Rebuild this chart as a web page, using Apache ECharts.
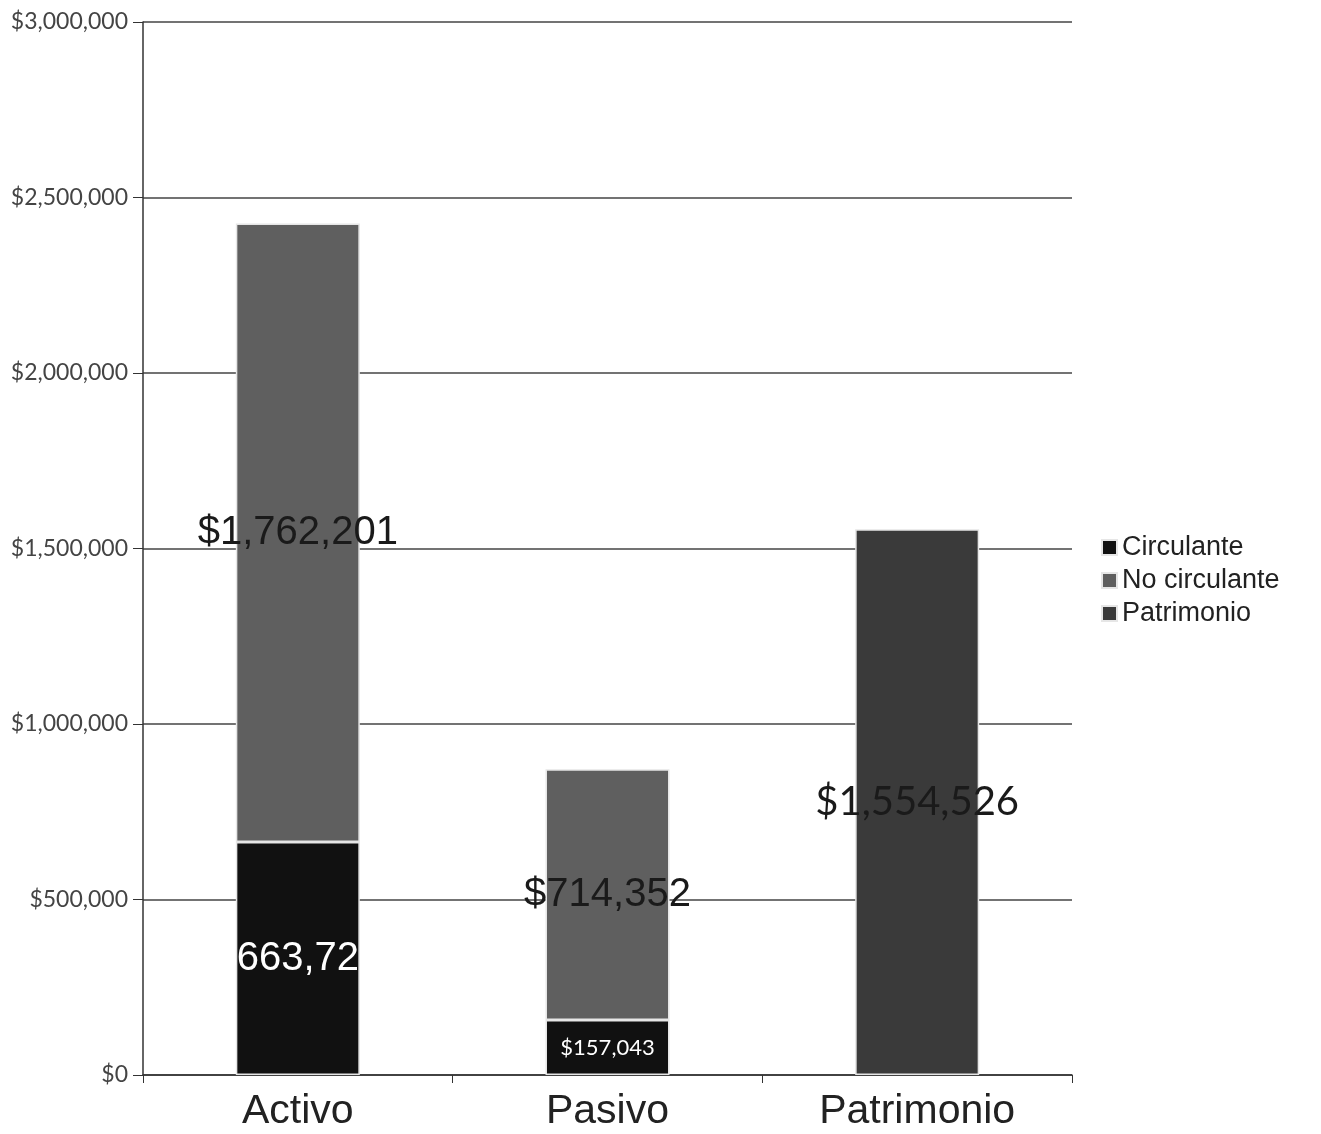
<!DOCTYPE html>
<html>
<head>
<meta charset="utf-8">
<script src="https://cdn.jsdelivr.net/npm/echarts@6/dist/echarts.min.js"></script>
<style>
  html, body { margin: 0; padding: 0; background: #fff; }
  #chart { width: 1321px; height: 1134px; }
</style>
</head>
<body>
<div id="chart"></div>
<script>
// datos
const categories = ["Activo", "Pasivo", "Patrimonio"];
const circulante = [663720, 157043, null];
const noCirculante = [1762201, 714352, null];
const patrimonio = [null, null, 1554526];
const yTicks = [0, 500000, 1000000, 1500000, 2000000, 2500000, 3000000];

const money = v => "$" + Number(v).toLocaleString("en-US");

const chart = echarts.init(document.getElementById("chart"));

const bigLabel = {
  show: true,
  position: "inside",
  fontFamily: "Liberation Sans, Arial",
  fontSize: 40,
  color: "#1a1a1a",
  formatter: p => money(p.value)
};

const option = {
  backgroundColor: "#fff",
  animation: false,
  grid: { left: 143, right: 249, top: 22, bottom: 59 },
  legend: {
    orient: "vertical",
    left: 1096,
    top: 529,
    itemWidth: 15,
    itemHeight: 15,
    itemGap: 6,
    icon: "rect",
    textStyle: { fontFamily: "Liberation Sans, Arial", fontSize: 27, color: "#222", padding: [0, 0, 0, 0] },
    data: ["Circulante", "No circulante", "Patrimonio"]
  },
  xAxis: {
    type: "category",
    data: categories,
    axisLine: { lineStyle: { color: "#333", width: 1.5 } },
    axisTick: { show: true, length: 8, lineStyle: { color: "#333" } },
    axisLabel: { margin: 16, fontFamily: "Liberation Sans, Arial", fontSize: 41, color: "#222" }
  },
  yAxis: {
    type: "value",
    min: yTicks[0],
    max: yTicks[yTicks.length - 1],
    interval: 500000,
    axisLine: { show: true, lineStyle: { color: "#333", width: 1.5 } },
    axisTick: { show: true, inside: false, length: 10, lineStyle: { color: "#333" } },
    splitLine: { lineStyle: { color: "#444", width: 1.5 } },
    axisLabel: {
      margin: 15,
      fontFamily: "Lato, Open Sans",
      fontSize: 23,
      color: "#444",
      formatter: v => money(v)
    }
  },
  series: [
    {
      name: "Circulante",
      type: "bar",
      stack: "total",
      barWidth: 124,
      itemStyle: { color: "#111111", borderColor: "#e6e6e6", borderWidth: 1.5 },
      data: [
        { value: circulante[0], label: Object.assign({}, bigLabel, { color: "#fff" }) },
        { value: circulante[1], label: { show: true, position: "inside", fontFamily: "Lato, Open Sans", fontSize: 22, color: "#fff", formatter: p => money(p.value) } },
        circulante[2]
      ]
    },
    {
      name: "No circulante",
      type: "bar",
      stack: "total",
      barWidth: 124,
      itemStyle: { color: "#5f5f5f", borderColor: "#e6e6e6", borderWidth: 1.5 },
      label: bigLabel,
      data: noCirculante
    },
    {
      name: "Patrimonio",
      type: "bar",
      stack: "total",
      barWidth: 124,
      itemStyle: { color: "#3a3a3a", borderColor: "#e6e6e6", borderWidth: 1.5 },
      label: {
        show: true,
        position: "inside",
        fontFamily: "Lato, Open Sans",
        fontSize: 40,
        color: "#1a1a1a",
        formatter: p => money(p.value)
      },
      data: patrimonio
    }
  ]
};

chart.setOption(option);
</script>
</body>
</html>
